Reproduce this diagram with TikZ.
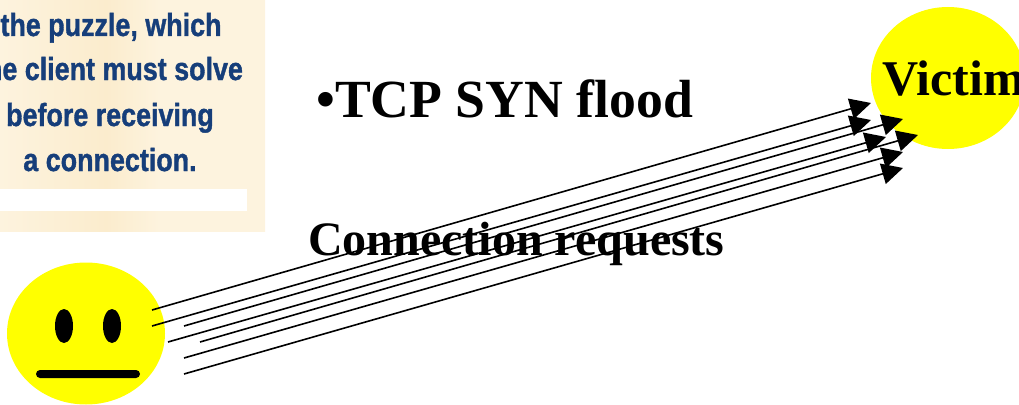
\documentclass[tikz,border=0pt]{standalone}
\usepackage{fontspec}
\setmainfont{Liberation Serif}
\newfontfamily\boxfont[BoldFeatures={FakeBold=1.3}]{Liberation Sans}
\usetikzlibrary{arrows.meta,shapes.geometric}
\definecolor{faceyellow}{RGB}{255,255,0}
\definecolor{boxblue}{RGB}{22,62,122}
\definecolor{creamA}{RGB}{254,247,228}
\definecolor{creamB}{RGB}{251,236,205}
\definecolor{creamC}{RGB}{253,243,222}
\pgfdeclarehorizontalshading{creamband}{100bp}{
  color(0bp)=(creamA);
  color(25bp)=(creamC);
  color(45bp)=(creamB);
  color(55bp)=(creamC);
  color(100bp)=(creamC)}
\tikzset{
  face/.style={ellipse,draw=none,fill=faceyellow,inner sep=0pt},
  req/.style={draw=black,line width=1.6pt,-{Triangle[length=21pt,width=21pt]}},
  bigtext/.style={font=\fontsize{53.7}{54}\selectfont\bfseries,inner sep=0pt,anchor=base west},
  labeltext/.style={font=\fontsize{48}{48}\selectfont\bfseries,inner sep=0pt,anchor=base west},
  boxline/.style={font=\boxfont\bfseries\fontsize{32}{32}\selectfont,text=boxblue,inner sep=0pt,anchor=base,xscale=.84},
  black part/.style={fill=black,draw=none,inner sep=0pt},
}
\begin{document}
\begin{tikzpicture}[x=1pt,y=-1pt]
\useasboundingbox (0,0) rectangle (1019,404);
\clip (0,0) rectangle (1019,404);
\node[inner sep=0pt,minimum width=265pt,minimum height=231pt,anchor=north west,shading=creamband] (panel) at (0,0) {};
\node[fill=white,inner sep=0pt,minimum width=247pt,minimum height=22pt,anchor=north west] (strip) at (0,189) {};
\node[boxline] (l1) at (111,36) {the puzzle, which};
\node[boxline] (l2) at (110,80) {the client must solve};
\node[boxline] (l3) at (110,126) {before receiving};
\node[boxline] (l4) at (110,171) {a connection.};
\node[face,minimum width=158pt,minimum height=142pt] (attacker) at (86,333.5) {};
\node[face,minimum width=154pt,minimum height=142pt] (victim) at (948,78) {};
\node[black part,ellipse,minimum width=18pt,minimum height=34pt] (eyeL) at (64,326) {};
\node[black part,ellipse,minimum width=18pt,minimum height=34pt] (eyeR) at (112,326) {};
\node[black part,rounded corners=4pt,minimum width=104pt,minimum height=8pt] (mouth) at (88,374) {};
\node[bigtext] (title) at (316,117) {•TCP SYN flood};
\node[labeltext,font=\fontsize{50}{50}\selectfont\bfseries] (victimlabel) at (882,95) {Victim};
\node[labeltext] (conn) at (308,255) {Connection requests};
\coordinate (s1) at (152,310); \coordinate (t1) at (871,103);
\coordinate (s2) at (152,326); \coordinate (t2) at (871,120);
\coordinate (s3) at (184,326); \coordinate (t3) at (903,119);
\coordinate (s4) at (168,342); \coordinate (t4) at (886,137);
\coordinate (s5) at (200,342); \coordinate (t5) at (918,135);
\coordinate (s6) at (184,358); \coordinate (t6) at (903,152);
\coordinate (s7) at (184,374); \coordinate (t7) at (903,168);
\foreach \i in {1,...,7} {\draw[req] (s\i) -- (t\i);}
\end{tikzpicture}
\end{document}
